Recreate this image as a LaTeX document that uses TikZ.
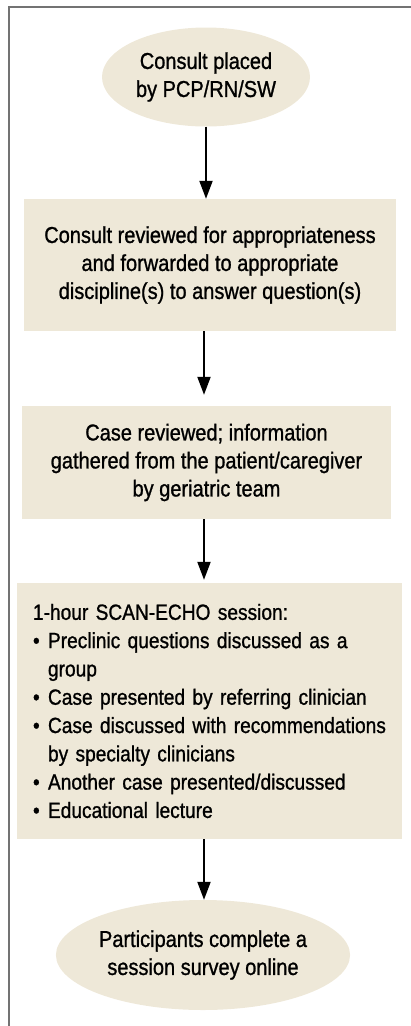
\documentclass[tikz,border=0pt]{standalone}
\usepackage{fontspec}
\setmainfont{Liberation Sans}[FakeStretch=0.87, FakeBold=1]
\usepackage{tikz}
\usetikzlibrary{positioning,arrows.meta,shapes.geometric}
\definecolor{beige}{RGB}{238,232,216}
\newcommand{\bul}{\makebox[15pt][l]{\textbullet}}

\begin{document}
\begin{tikzpicture}[
  x=1pt, y=-1pt,
  every node/.style={font=\fontsize{23}{28}\selectfont, text=black},
  oval/.style={ellipse, fill=beige, inner sep=0pt, align=center},
  stepbox/.style={rectangle, fill=beige, inner sep=0pt, align=center},
  flow/.style={line width=2pt, -{Triangle[length=18pt, width=13pt]}}
]
\useasboundingbox (0,0) rectangle (411,1026);
% frame
\draw[black!55, line width=1.5pt] (9,1026) -- (9,7) -- (411,7);
% steps
\node[oval, minimum width=208pt, minimum height=99pt] (placed) at (206,77)
  {Consult placed\\by PCP/RN/SW};
\node[stepbox, minimum width=372pt, minimum height=132pt] (review) at (210,265)
  {Consult reviewed for appropriateness\\and forwarded to appropriate\\discipline(s) to answer question(s)};
\node[stepbox, minimum width=369pt, minimum height=113pt] (gather) at (206.5,462.5)
  {Case reviewed; information\\gathered from the patient/caregiver\\by geriatric team};
\node[stepbox, minimum height=256pt, inner xsep=16pt, text width=353pt, align=left,
  font=\fontsize{22}{28.3}\selectfont] (session) at (209.5,711)
  {1-hour SCAN-ECHO session:\\
   \mbox{\bul Preclinic questions discussed as a}\\
   \hphantom{\bul}group\\
   \mbox{\bul Case presented by referring clinician}\\
   \mbox{\bul Case discussed with recommendations}\\
   \hphantom{\bul}by specialty clinicians\\
   \mbox{\bul Another case presented/discussed}\\
   \bul Educational lecture};
\node[oval, minimum width=274pt, minimum height=110pt] (survey) at (203,955)
  {Participants complete a\\session survey online};
% arrows
\coordinate (axis) at (204,0);
\draw[flow] (placed.south) -- (placed.south |- review.north);
\draw[flow, shorten >=11pt] (review.south -| axis) -- (gather.north -| axis);
\draw[flow, shorten >=3pt] (gather.south -| axis) -- (session.north -| axis);
\draw[flow] (session.south -| axis) -- (survey.north -| axis);
\end{tikzpicture}
\end{document}
